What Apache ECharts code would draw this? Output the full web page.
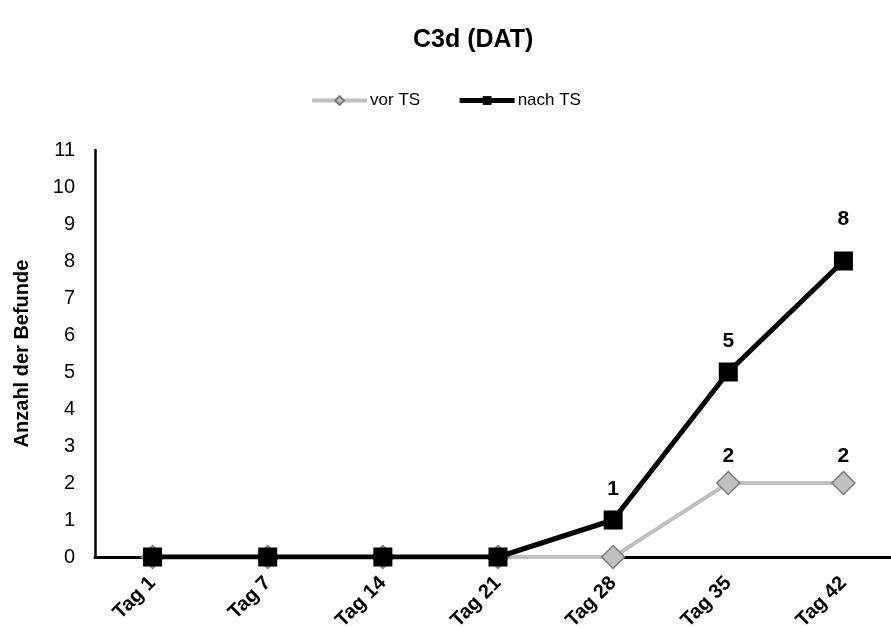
<!DOCTYPE html>
<html>
<head>
<meta charset="utf-8">
<title>C3d (DAT)</title>
<script src="https://cdn.jsdelivr.net/npm/echarts@6/dist/echarts.min.js"></script>
<style>
  html, body { margin: 0; padding: 0; background: #fff; overflow: hidden; }
  #chart { width: 891px; height: 628px; }
</style>
</head>
<body>
<div id="chart"></div>
<script>
// Befunde je Untersuchungstag
const categories = ['Tag 1', 'Tag 7', 'Tag 14', 'Tag 21', 'Tag 28', 'Tag 35', 'Tag 42'];
const vorTS = [0, 0, 0, 0, 0, 2, 2];
const nachTS = [0, 0, 0, 0, 1, 5, 8];
const seriesNames = ['vor TS', 'nach TS'];

const FONT = '"Liberation Sans", Arial, sans-serif';

// zero values stay unlabelled
const labelFmt = p => (p.value === 0 ? '' : String(p.value));

// the highest point's label sits a little further above its marker
const nachMax = Math.max(...nachTS);
const nachData = nachTS.map(v => (v === nachMax ? { value: v, label: { distance: 22 } } : v));

const chart = echarts.init(document.getElementById('chart'), null, { renderer: 'canvas' });

chart.setOption({
  backgroundColor: '#ffffff',
  animation: false,
  title: {
    text: 'C3d (DAT)',
    left: 408,
    top: 23,
    textStyle: { fontFamily: FONT, fontSize: 25, fontWeight: 'bold', color: '#000' }
  },
  legend: {
    data: seriesNames,
    left: 'center',
    top: 87,
    itemWidth: 55,
    itemHeight: 11,
    itemGap: 37,
    lineStyle: { width: 'inherit' },
    textStyle: { fontFamily: FONT, fontSize: 17, color: '#000', padding: [0, 0, 0, -2] }
  },
  // the last category band runs past the right edge of the canvas
  grid: { left: 95, width: 806, top: 150, bottom: 71, containLabel: false, outerBoundsMode: 'none' },
  xAxis: {
    type: 'category',
    data: categories,
    boundaryGap: true,
    axisLine: { show: true, lineStyle: { color: '#000', width: 3 } },
    axisTick: { show: false },
    splitLine: { show: false },
    axisLabel: {
      rotate: 45,
      margin: 23,
      interval: 0,
      fontFamily: FONT,
      fontSize: 20,
      fontWeight: 'bold',
      color: '#000'
    }
  },
  yAxis: {
    type: 'value',
    min: 0,
    max: 11,
    interval: 1,
    name: 'Anzahl der Befunde',
    nameLocation: 'middle',
    nameGap: 63,
    nameTextStyle: { fontFamily: FONT, fontSize: 20, fontWeight: 'bold', color: '#000' },
    axisLine: { show: true, lineStyle: { color: '#000', width: 2.5 } },
    axisTick: { show: false },
    splitLine: { show: false },
    axisLabel: { margin: 20, fontFamily: FONT, fontSize: 20, color: '#000' }
  },
  series: [
    {
      name: seriesNames[0],
      type: 'line',
      data: vorTS,
      z: 2,
      symbol: 'diamond',
      symbolSize: 23,
      lineStyle: { color: '#c0c0c0', width: 4 },
      itemStyle: { color: '#c0c0c0', borderColor: '#7a7a7a', borderWidth: 1.5 },
      label: {
        show: true,
        position: 'top',
        distance: 4,
        formatter: labelFmt,
        fontFamily: FONT,
        fontSize: 21,
        fontWeight: 'bold',
        color: '#000'
      }
    },
    {
      name: seriesNames[1],
      type: 'line',
      data: nachData,
      z: 3,
      symbol: 'rect',
      symbolSize: 19,
      lineStyle: { color: '#000', width: 5 },
      itemStyle: { color: '#000' },
      label: {
        show: true,
        position: 'top',
        distance: 11,
        formatter: labelFmt,
        fontFamily: FONT,
        fontSize: 21,
        fontWeight: 'bold',
        color: '#000'
      }
    }
  ]
});
</script>
</body>
</html>
